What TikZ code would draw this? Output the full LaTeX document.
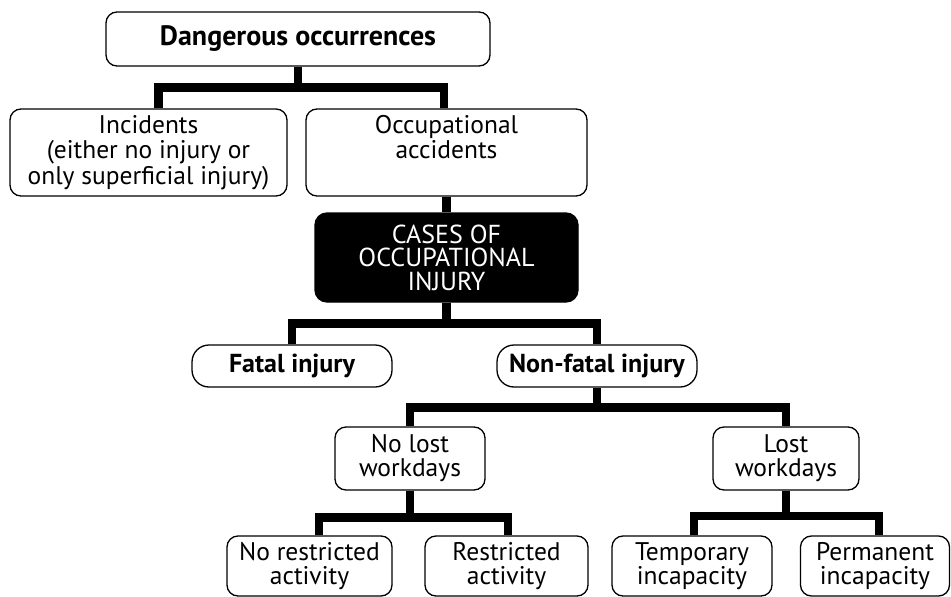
\documentclass[tikz,border=0pt]{standalone}
\usepackage{fontspec}
\setmainfont{PT Sans}
\usetikzlibrary{calc}
\begin{document}
\begin{tikzpicture}[x=1pt,y=-1pt,
  box/.style={draw=black, line width=1.3pt, rounded corners=11pt, align=center,
    inner sep=0pt, fill=white, font=\fontsize{25.5}{24}\selectfont},
  pill/.style={box, rounded corners=17pt, font=\fontsize{26}{24}\selectfont\bfseries},
  darkbox/.style={box, fill=black, text=white, rounded corners=12pt, font=\fontsize{26}{23.5}\selectfont},
  conn/.style={line width=8.5pt, line join=miter, line cap=butt}]
\useasboundingbox[fill=white] (0,0) rectangle (951,597);

% boxes
\node[box, font=\fontsize{28}{24}\selectfont\bfseries, minimum width=384pt, minimum height=54pt] (top) at (298,39) {Dangerous occurrences};
\node[box, font=\fontsize{25.5}{25.5}\selectfont, minimum width=277pt, minimum height=87pt] (inc) at (148.5,152.5) {Incidents\\(either no injury or\\only superficial injury)};
\node[box, font=\fontsize{25.5}{25.5}\selectfont, minimum width=281pt, minimum height=87pt] (occ) at (446.5,152.5) {Occupational\\accidents\\\phantom{only superficial injury)}};
\node[darkbox, minimum width=263pt, minimum height=89pt] (cases) at (446.5,257.5) {CASES OF\\OCCUPATIONAL\\INJURY};
\node[pill, minimum width=200pt, minimum height=42pt] (fatal) at (292,366) {Fatal injury};
\node[pill, minimum width=200pt, minimum height=42pt] (nonfatal) at (597,366) {Non-fatal injury};
\node[box, minimum width=150pt, minimum height=63pt] (nolost) at (410,458.5) {No lost\\workdays};
\node[box, minimum width=146pt, minimum height=63pt] (lost) at (786,458.5) {Lost\\workdays};
\node[box, minimum width=165pt, minimum height=60pt] (norestr) at (309.5,566) {No restricted\\activity};
\node[box, minimum width=163pt, minimum height=60pt] (restr) at (506.5,566) {Restricted\\activity};
\node[box, minimum width=160pt, minimum height=60pt] (temp) at (692,566) {Temporary\\incapacity};
\node[box, minimum width=149pt, minimum height=60pt] (perm) at (875,566) {Permanent\\incapacity};

% junction coordinates
\coordinate (a1) at (158.5,87.5);
\coordinate (a2) at (444,87.5);
\coordinate (b) at (446,323.5);
\coordinate (c) at (597,407.5);
\coordinate (d1) at (319,517.5);
\coordinate (d2) at (508,517.5);
\coordinate (e1) at (694,516);
\coordinate (e2) at (879,516);

% connectors
\draw[conn] (top.south) -- (top.south |- a1);
\draw[conn] (inc.north -| a1) -- (a1) -- (a2) -- (occ.north -| a2);
\draw[conn] (occ.south) -- (cases.north);
\draw[conn] (cases.south) -- (cases.south |- b);
\draw[conn] (fatal.north) |- (b) -| (nonfatal.north);
\draw[conn] (nonfatal.south) -- (c);
\draw[conn] (nolost.north) |- (c) -| (lost.north);
\draw[conn] (nolost.south) -- (nolost.south |- d1);
\draw[conn] (norestr.north -| d1) -- (d1) -- (d2) -- (restr.north -| d2);
\draw[conn] (lost.south) -- (lost.south |- e1);
\draw[conn] (temp.north -| e1) -- (e1) -- (e2) -- (perm.north -| e2);
\end{tikzpicture}
\end{document}
